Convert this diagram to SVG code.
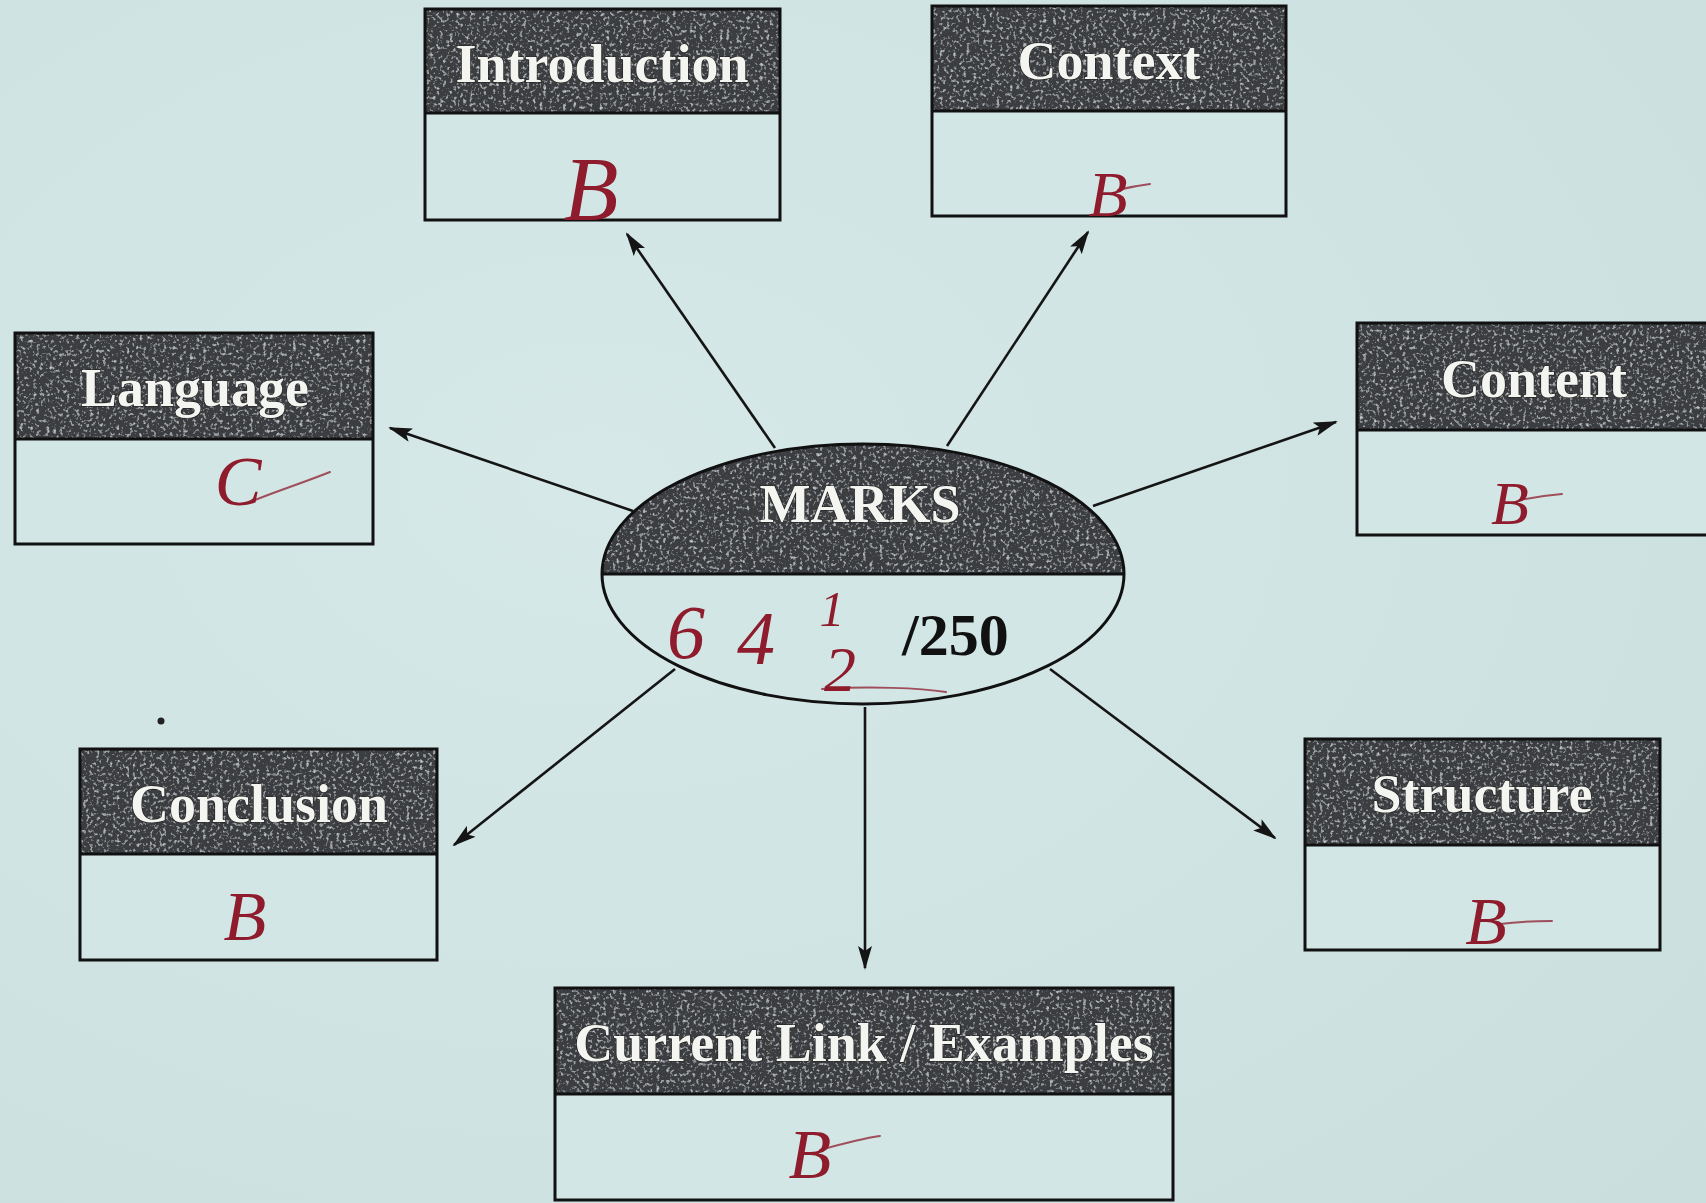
<svg xmlns="http://www.w3.org/2000/svg" width="1706" height="1203" viewBox="0 0 1706 1203">
  <style>
    .box { fill: none; stroke: #111; stroke-width: 3; }
    .head { fill: #3a3e41; filter: url(#grain); }
    .body { fill: #d3e6e6; }
    .title { font-family: "Liberation Serif", "Times New Roman", serif; font-weight: bold; font-size: 54px; fill: #f4f4f0; stroke: #1a1a1a; stroke-width: 1.2; paint-order: stroke; text-anchor: middle; }
    .edge { stroke: #151515; stroke-width: 2.6; fill: none; marker-end: url(#arrow); }
    .grade { font-family: "Liberation Serif", "Times New Roman", serif; font-style: italic; fill: #8e1c2c; text-anchor: middle; }
    .tail { stroke: #8e1c2c; stroke-width: 2; fill: none; stroke-linecap: round; opacity: 0.75; }
  </style>
  <defs>
    <marker id="arrow" viewBox="0 0 24 14" refX="22" refY="7" markerWidth="24" markerHeight="14" markerUnits="userSpaceOnUse" orient="auto">
      <path d="M0,0 L24,7 L0,14 L5,7 Z" fill="#151515"/>
    </marker>
    <!-- sparse pale speckle over the dark header fills -->
    <filter id="grain" x="0" y="0" width="100%" height="100%">
      <feTurbulence type="fractalNoise" baseFrequency="0.3" numOctaves="2" seed="4" result="n"/>
      <feColorMatrix in="n" type="matrix" values="0 0 0 0 0.55  0 0 0 0 0.58  0 0 0 0 0.6  0 0 0 3.2 -1.75" result="spots"/>
      <feComposite in="spots" in2="SourceGraphic" operator="in" result="clip"/>
      <feMerge><feMergeNode in="SourceGraphic"/><feMergeNode in="clip"/></feMerge>
    </filter>
    <clipPath id="ovalTop">
      <rect x="590" y="430" width="550" height="144"/>
    </clipPath>
    <radialGradient id="paper" cx="0.35" cy="0.4" r="0.9">
      <stop offset="0" stop-color="#d6e9e8"/>
      <stop offset="1" stop-color="#c9dedd"/>
    </radialGradient>
  </defs>

  <rect x="0" y="0" width="1706" height="1203" fill="url(#paper)"/>

  <!-- connectors from the central oval -->
  <g id="connectors">
    <line class="edge" x1="775" y1="448" x2="627" y2="234"/>
    <line class="edge" x1="947" y1="446" x2="1088" y2="232"/>
    <line class="edge" x1="1093" y1="506" x2="1336" y2="422"/>
    <line class="edge" x1="633" y1="511" x2="390" y2="428"/>
    <line class="edge" x1="675" y1="669" x2="454" y2="845"/>
    <line class="edge" x1="865" y1="707" x2="865" y2="968"/>
    <line class="edge" x1="1050" y1="669" x2="1275" y2="838"/>
  </g>

  <!-- central oval -->
  <g id="marks">
    <ellipse cx="863" cy="574" rx="261" ry="130" fill="#d3e6e6"/>
    <ellipse class="head" cx="863" cy="574" rx="261" ry="130" clip-path="url(#ovalTop)"/>
    <ellipse cx="863" cy="574" rx="261" ry="130" class="box"/>
    <line x1="602" y1="574" x2="1124" y2="574" stroke="#111" stroke-width="3"/>
    <text class="title" x="860" y="522">MARKS</text>
    <text class="grade" x="686" y="658" font-size="76" font-style="normal">6</text>
    <text class="grade" x="756" y="664" font-size="76">4</text>
    <text class="grade" x="832" y="626" font-size="50">1</text>
    <text class="grade" x="840" y="691" font-size="64" font-style="normal">2</text>
    <path class="tail" d="M822,689 C870,686 920,688 946,692"/>
    <text x="902" y="655" font-family="Liberation Serif, Times New Roman, serif" font-weight="bold" font-size="60" fill="#111">/250</text>
  </g>

  <g id="introduction">
    <rect class="body" x="425" y="9" width="355" height="211"/>
    <rect class="head" x="425" y="9" width="355" height="104"/>
    <rect class="box" x="425" y="9" width="355" height="211"/>
    <line x1="425" y1="113" x2="780" y2="113" stroke="#111" stroke-width="3"/>
    <text class="title" x="602" y="82">Introduction</text>
    <text class="grade" x="591" y="220" font-size="90">B</text>
  </g>

  <g id="context">
    <rect class="body" x="932" y="6" width="354" height="210"/>
    <rect class="head" x="932" y="6" width="354" height="105"/>
    <rect class="box" x="932" y="6" width="354" height="210"/>
    <line x1="932" y1="111" x2="1286" y2="111" stroke="#111" stroke-width="3"/>
    <text class="title" x="1109" y="79">Context</text>
    <text class="grade" x="1108" y="216" font-size="64">B</text>
    <path class="tail" d="M1118,190 C1130,187 1142,185 1150,184"/>
  </g>

  <g id="content">
    <rect class="body" x="1357" y="323" width="360" height="212"/>
    <rect class="head" x="1357" y="323" width="360" height="107"/>
    <rect class="box" x="1357" y="323" width="360" height="212"/>
    <line x1="1357" y1="430" x2="1717" y2="430" stroke="#111" stroke-width="3"/>
    <text class="title" x="1534" y="397">Content</text>
    <text class="grade" x="1510" y="524" font-size="62">B</text>
    <path class="tail" d="M1520,500 C1535,497 1550,495 1562,494"/>
  </g>

  <g id="language">
    <rect class="body" x="15" y="333" width="358" height="211"/>
    <rect class="head" x="15" y="333" width="358" height="106"/>
    <rect class="box" x="15" y="333" width="358" height="211"/>
    <line x1="15" y1="439" x2="373" y2="439" stroke="#111" stroke-width="3"/>
    <text class="title" x="195" y="406">Language</text>
    <text class="grade" x="238" y="505" font-size="70">C</text>
    <path class="tail" d="M255,500 C280,490 305,482 330,472"/>
  </g>

  <g id="conclusion">
    <rect class="body" x="80" y="749" width="357" height="211"/>
    <rect class="head" x="80" y="749" width="357" height="105"/>
    <rect class="box" x="80" y="749" width="357" height="211"/>
    <line x1="80" y1="854" x2="437" y2="854" stroke="#111" stroke-width="3"/>
    <text class="title" x="259" y="822">Conclusion</text>
    <text class="grade" x="245" y="940" font-size="70">B</text>
  </g>

  <g id="structure">
    <rect class="body" x="1305" y="739" width="355" height="211"/>
    <rect class="head" x="1305" y="739" width="355" height="106"/>
    <rect class="box" x="1305" y="739" width="355" height="211"/>
    <line x1="1305" y1="845" x2="1660" y2="845" stroke="#111" stroke-width="3"/>
    <text class="title" x="1482" y="812">Structure</text>
    <text class="grade" x="1486" y="944" font-size="68">B</text>
    <path class="tail" d="M1500,924 C1515,922 1535,921 1552,921"/>
  </g>

  <g id="current-link">
    <rect class="body" x="555" y="988" width="618" height="212"/>
    <rect class="head" x="555" y="988" width="618" height="106"/>
    <rect class="box" x="555" y="988" width="618" height="212"/>
    <line x1="555" y1="1094" x2="1173" y2="1094" stroke="#111" stroke-width="3"/>
    <text class="title" x="864" y="1061">Current Link / Examples</text>
    <text class="grade" x="810" y="1178" font-size="70">B</text>
    <path class="tail" d="M820,1150 C845,1143 865,1138 880,1136"/>
  </g>

  <circle cx="161" cy="721" r="3.5" fill="#222"/>
</svg>
